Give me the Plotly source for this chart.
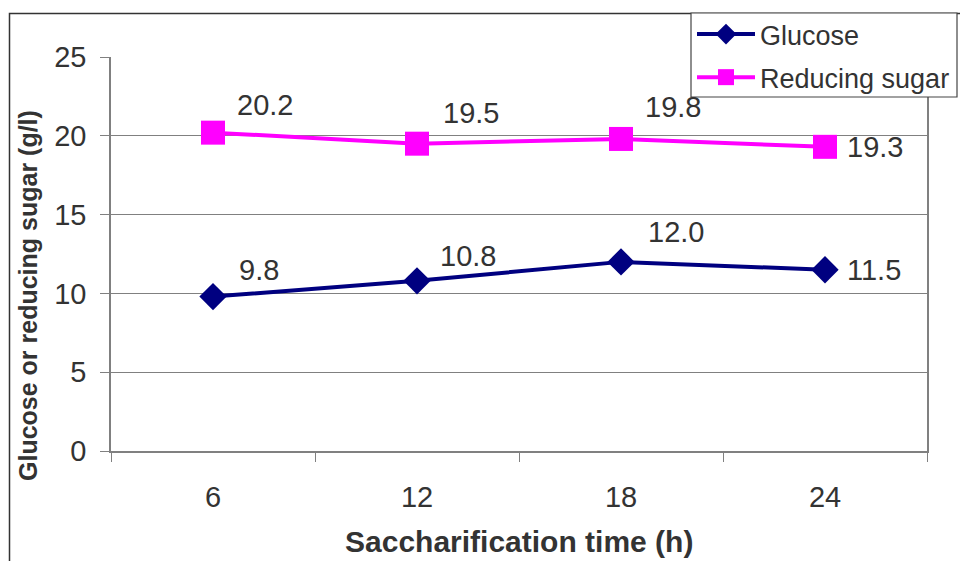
import plotly.graph_objects as go

# ---- data ----
times = ["6", "12", "18", "24"]
glucose = [9.8, 10.8, 12.0, 11.5]
reducing_sugar = [20.2, 19.5, 19.8, 19.3]
y_ticks = [0, 5, 10, 15, 20, 25]

# label offsets (px, right / up) per point
glu_off = [(24, 27), (21, 25), (25, 30), (20, 0)]
red_off = [(22, 28), (24, 31), (22, 32), (20, 0)]

TXT = "#333333"
FONT = "Liberation Sans, Arial, sans-serif"

fig = go.Figure()
fig.add_trace(go.Scatter(
    x=times, y=glucose, name="Glucose", mode="lines+markers",
    line=dict(color="#000080", width=4),
    marker=dict(symbol="diamond", size=21, color="#000080"),
    legendgroup="g1",
))
fig.add_trace(go.Scatter(
    x=times, y=reducing_sugar, name="Reducing sugar", mode="lines+markers",
    line=dict(color="#FF00FF", width=4),
    marker=dict(symbol="square", size=24, color="#FF00FF"),
    legendgroup="g2",
))

annotations = []
for series, offs in ((glucose, glu_off), (reducing_sugar, red_off)):
    for i, (v, (dx, dy)) in enumerate(zip(series, offs)):
        annotations.append(dict(
            x=i, y=v, xref="x", yref="y", text=f"{v:.1f}", showarrow=False,
            xanchor="left", yanchor="middle", xshift=dx, yshift=dy,
            font=dict(size=29, color=TXT, family=FONT),
        ))

# axis titles
annotations.append(dict(
    x=0.5, y=-0.2305, xref="paper", yref="paper", yanchor="middle",
    text="<b>Saccharification time (h)</b>", showarrow=False,
    font=dict(size=30, color=TXT, family=FONT),
))
annotations.append(dict(
    x=(28 - 111) / 816, y=(451 - 296) / 394, xref="paper", yref="paper",
    xanchor="center", yanchor="middle", textangle=-90,
    text="<b>Glucose or reducing sugar (g/l)</b>", showarrow=False,
    font=dict(size=25, color=TXT, family=FONT),
))

def px(xp):
    return (xp - 111) / 816

def py(yp):
    return (451 - yp) / 394

shapes = [
    # outer chart border (extends past right/bottom edge)
    dict(type="rect", xref="paper", yref="paper",
         x0=px(9.5), x1=px(975), y0=py(580), y1=py(13.5),
         line=dict(color="#333333", width=1.5), fillcolor="rgba(0,0,0,0)", layer="below"),
    # legend box
    dict(type="rect", xref="paper", yref="paper",
         x0=px(691), x1=px(957), y0=py(97), y1=py(13),
         line=dict(color="#444444", width=1.2), fillcolor="white", layer="above"),
]

fig.update_layout(
    width=960, height=561,
    margin=dict(l=111, r=33, t=57, b=110, autoexpand=False),
    paper_bgcolor="white", plot_bgcolor="white",
    font=dict(family=FONT, color=TXT),
    showlegend=True,
    legend=dict(
        x=px(692), y=py(10), xanchor="left", yanchor="top",
        bgcolor="rgba(0,0,0,0)", borderwidth=0,
        font=dict(size=27, color=TXT, family=FONT),
        tracegroupgap=5, traceorder="grouped", itemwidth=58,
    ),
    annotations=annotations,
    shapes=shapes,
    xaxis=dict(
        type="category", categoryorder="array", categoryarray=times,
        range=[-0.5, 3.5], tickson="boundaries",
        ticks="outside", ticklen=9, tickcolor="#808080", tickwidth=1,
        showline=True, linecolor="#808080", linewidth=1.5,
        showgrid=False, zeroline=False,
        tickfont=dict(size=29, color=TXT, family=FONT),
        ticklabelstandoff=19,
    ),
    yaxis=dict(
        range=[0, 25], tickvals=y_ticks, ticktext=[str(v) for v in y_ticks],
        ticks="outside", ticklen=9, tickcolor="#808080", tickwidth=1,
        showline=True, mirror=True, linecolor="#808080", linewidth=1.5,
        showgrid=True, gridcolor="#808080", gridwidth=1, zeroline=False,
        tickfont=dict(size=29, color=TXT, family=FONT),
        ticklabelstandoff=8,
    ),
)

fig.write_html("out.html")
